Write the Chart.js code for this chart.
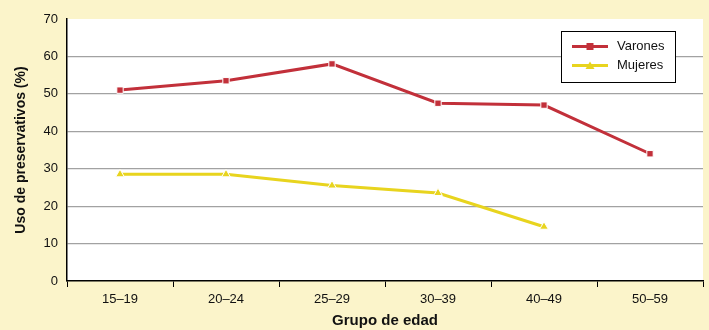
<!DOCTYPE html>
<html>
<head>
<meta charset="utf-8">
<script src="https://cdn.jsdelivr.net/npm/chart.js@4/dist/chart.umd.min.js"></script>
<style>
  html, body { margin: 0; padding: 0; background: #FBF4CA; }
  #wrap { width: 709px; height: 330px; }
</style>
</head>
<body>
<div id="wrap"><canvas id="c" width="709" height="330"></canvas></div>
<script>
// Age groups and condom use (%) by sex
const grupos = ['15\u201319', '20\u201324', '25\u201329', '30\u201339', '40\u201349', '50\u201359'];
const varones = [51, 53.5, 58, 47.5, 47, 34];
const mujeres = [28.5, 28.5, 25.5, 23.5, 14.5, null];
const yTicks = [0, 10, 20, 30, 40, 50, 60, 70];

const FONT = "'Liberation Sans', Arial, sans-serif";
const RED = '#C2303A';
const YELLOW = '#E8D41E';

// White plotting area on the beige page
const plotBg = {
  id: 'plotBg',
  beforeDraw(chart) {
    const { ctx, chartArea: a } = chart;
    ctx.save();
    ctx.fillStyle = '#FFFFFF';
    ctx.fillRect(a.left, a.top, a.right - a.left, a.bottom - a.top);
    ctx.restore();
  }
};

// Boxed legend with line + marker samples
const boxLegend = {
  id: 'boxLegend',
  afterDraw(chart) {
    const { ctx, chartArea: a } = chart;
    const x0 = a.right - 142, y0 = a.top + 12, w = 114, h = 51;
    ctx.save();
    ctx.fillStyle = '#FFFFFF';
    ctx.fillRect(x0, y0, w, h);
    ctx.strokeStyle = '#000000';
    ctx.lineWidth = 1;
    ctx.strokeRect(x0 + 0.5, y0 + 0.5, w, h);
    chart.data.datasets.forEach((ds, i) => {
      const y = y0 + 15.5 + i * 19;
      ctx.strokeStyle = ds.borderColor;
      ctx.lineWidth = 3;
      ctx.beginPath();
      ctx.moveTo(x0 + 11, y);
      ctx.lineTo(x0 + 47, y);
      ctx.stroke();
      ctx.fillStyle = ds.borderColor;
      const mx = x0 + 29;
      if (ds.pointStyle === 'rect') {
        ctx.fillRect(mx - 3.5, y - 3.5, 7, 7);
      } else {
        ctx.beginPath();
        ctx.moveTo(mx, y - 4);
        ctx.lineTo(mx + 4.5, y + 3.5);
        ctx.lineTo(mx - 4.5, y + 3.5);
        ctx.closePath();
        ctx.fill();
      }
      ctx.fillStyle = '#111111';
      ctx.font = '13px ' + FONT;
      ctx.textBaseline = 'middle';
      ctx.textAlign = 'left';
      ctx.fillText(ds.label, x0 + 56, y);
    });
    ctx.restore();
  }
};

new Chart(document.getElementById('c'), {
  type: 'line',
  data: {
    labels: grupos,
    datasets: [
      {
        label: 'Varones',
        data: varones,
        borderColor: RED,
        backgroundColor: RED,
        borderWidth: 3,
        pointStyle: 'rect',
        pointRadius: 4.5,
        pointBorderColor: '#FFFFFF',
        pointBorderWidth: 1,
        pointBackgroundColor: RED,
        tension: 0,
        spanGaps: false
      },
      {
        label: 'Mujeres',
        data: mujeres,
        borderColor: YELLOW,
        backgroundColor: YELLOW,
        borderWidth: 3,
        pointStyle: 'triangle',
        pointRadius: 5,
        pointBorderColor: '#FFFFFF',
        pointBorderWidth: 1,
        pointBackgroundColor: YELLOW,
        tension: 0,
        spanGaps: false
      }
    ]
  },
  options: {
    responsive: false,
    animation: false,
    layout: { padding: { top: 19, right: 5, bottom: 0, left: 0 } },
    plugins: {
      legend: { display: false },
      tooltip: { enabled: false }
    },
    scales: {
      x: {
        offset: true,
        grid: {
          offset: true,
          drawOnChartArea: false,
          drawTicks: true,
          tickLength: 6,
          color: '#000000',
          lineWidth: 1
        },
        border: { color: '#000000', width: 1.5 },
        ticks: {
          color: '#111111',
          font: { family: FONT, size: 13 },
          padding: 5,
          maxRotation: 0
        },
        title: {
          display: true,
          text: 'Grupo de edad',
          color: '#111111',
          font: { family: FONT, size: 15, weight: 'bold' },
          padding: { top: 1, bottom: 0 }
        },
        afterFit(scale) { scale.height = 49; }
      },
      y: {
        min: 0,
        max: 70,
        afterBuildTicks(scale) { scale.ticks = yTicks.map(v => ({ value: v })); },
        grid: {
          drawTicks: false,
          color: ctx => (ctx.tick && (ctx.tick.value === 70 || ctx.tick.value === 0)) ? 'rgba(0,0,0,0)' : '#A2A2A2',
          lineWidth: 1.2
        },
        border: { color: '#000000', width: 1.5 },
        ticks: {
          color: '#111111',
          font: { family: FONT, size: 13 },
          padding: 9
        },
        title: {
          display: true,
          text: 'Uso de preservativos (%)',
          color: '#111111',
          font: { family: FONT, size: 14, weight: 'bold' },
          padding: { top: 13, bottom: 4 }
        },
        afterFit(scale) { scale.width = 67; }
      }
    }
  },
  plugins: [plotBg, boxLegend]
});
</script>
</body>
</html>
